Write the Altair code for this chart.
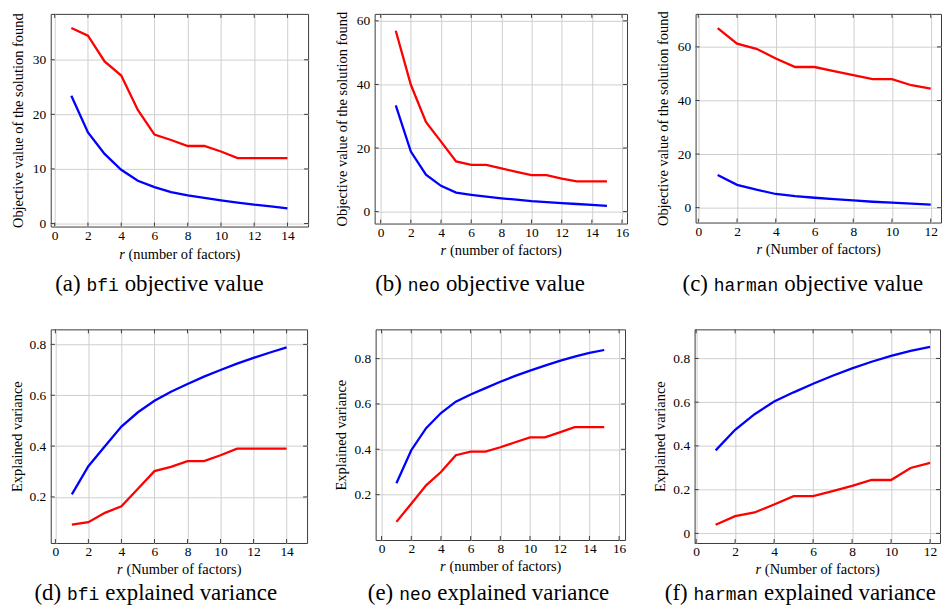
import altair as alt
import pandas as pd

# ---------------- data ----------------
r_bfi = list(range(1, 15))
r_neo = list(range(1, 16))
r_harman = list(range(1, 13))

bfi_obj_red = [35.8, 34.4, 29.7, 27.1, 20.8, 16.3, 15.3, 14.2, 14.2, 13.2, 12.0, 12.0, 12.0, 12.0]
bfi_obj_blue = [23.4, 16.7, 12.75, 9.84, 7.83, 6.68, 5.77, 5.16, 4.68, 4.25, 3.83, 3.46, 3.16, 2.79]

neo_obj_red = [56.9, 39.9, 28.2, 22.0, 15.8, 14.7, 14.7, 13.6, 12.5, 11.5, 11.5, 10.4, 9.5, 9.5, 9.5]
neo_obj_blue = [33.4, 18.9, 11.6, 8.1, 6.0, 5.3, 4.7, 4.2, 3.75, 3.3, 3.0, 2.7, 2.4, 2.1, 1.8]

harman_obj_red = [67.0, 61.2, 59.3, 55.7, 52.5, 52.5, 51.0, 49.5, 48.0, 48.0, 45.7, 44.4]
harman_obj_blue = [12.2, 8.5, 6.7, 5.1, 4.3, 3.7, 3.2, 2.7, 2.2, 1.85, 1.5, 1.1]

bfi_var_blue = [0.210, 0.321, 0.399, 0.477, 0.533, 0.578, 0.614, 0.644, 0.673, 0.699, 0.724, 0.747, 0.768, 0.788]
bfi_var_red = [0.091, 0.101, 0.1375, 0.1635, 0.2325, 0.3015, 0.318, 0.341, 0.341, 0.364, 0.39, 0.39, 0.39, 0.39]

neo_var_blue = [0.25, 0.396, 0.493, 0.56, 0.61, 0.642, 0.67, 0.698, 0.724, 0.747, 0.769, 0.79, 0.809, 0.825, 0.838]
neo_var_red = [0.08, 0.16, 0.241, 0.30, 0.374, 0.39, 0.39, 0.409, 0.431, 0.453, 0.453, 0.475, 0.498, 0.498, 0.498]

harman_var_blue = [0.3795, 0.4736, 0.545, 0.6027, 0.645, 0.6846, 0.721, 0.7545, 0.785, 0.812, 0.835, 0.853]
harman_var_red = [0.0395, 0.079, 0.0956, 0.132, 0.17, 0.17, 0.193, 0.217, 0.244, 0.244, 0.299, 0.322]

x_ticks_14 = [0, 2, 4, 6, 8, 10, 12, 14]
x_ticks_16 = [0, 2, 4, 6, 8, 10, 12, 14, 16]
x_ticks_12 = [0, 2, 4, 6, 8, 10, 12]
y_ticks_bfi = [0, 10, 20, 30]
y_ticks_60 = [0, 20, 40, 60]
y_ticks_var = [0.2, 0.4, 0.6, 0.8]
y_ticks_var0 = [0, 0.2, 0.4, 0.6, 0.8]

OBJ_TITLE = "Objective value of the solution found"
VAR_TITLE = "Explained variance"

SERIF = "Liberation Serif"
MONO = "Liberation Mono"
GRID = "#cfcfcf"
FRAME = "#3a3a3a"
ONE = pd.DataFrame({"k": [0]})


def panel(r, red, blue, W, H, xdom, ydom, xticks, yticks, ytitle, letter,
          name, rest, mono_left, xword, xt_base, cap_base, title_pad):
    n = len(r)
    df = pd.DataFrame({"r": r + r, "v": red + blue,
                       "s": ["red"] * n + ["blue"] * n})
    xs = alt.Scale(domain=xdom, nice=False, zero=False)
    ys = alt.Scale(domain=ydom, nice=False, zero=False)
    xax = alt.Axis(values=xticks, title=None, grid=True, gridColor=GRID, gridWidth=1,
                   ticks=False, domain=False, labelPadding=2, labelFlush=False,
                   labelOverlap=False, format="~f")
    yax = alt.Axis(values=yticks, title=ytitle, grid=True, gridColor=GRID, gridWidth=1,
                   ticks=False, domain=False, labelPadding=5, labelFlush=False,
                   labelOverlap=False, format=".1~f", titlePadding=title_pad)
    lines = alt.Chart(df).mark_line(strokeWidth=2.3).encode(
        x=alt.X("r:Q", scale=xs, axis=xax),
        y=alt.Y("v:Q", scale=ys, axis=yax),
        color=alt.Color("s:N", scale=alt.Scale(domain=["red", "blue"],
                                               range=["#ff0000", "#0000ff"]),
                        legend=None),
    )
    tx = pd.DataFrame({"r": xticks})
    ty = pd.DataFrame({"v": yticks})
    tk = dict(color=FRAME, strokeWidth=1)
    bot = alt.Chart(tx).mark_rule(**tk).encode(
        x=alt.X("r:Q", scale=xs, axis=xax), y=alt.value(H), y2=alt.value(H - 4))
    top = alt.Chart(tx).mark_rule(**tk).encode(
        x=alt.X("r:Q", scale=xs, axis=xax), y=alt.value(0), y2=alt.value(4))
    left = alt.Chart(ty).mark_rule(**tk).encode(
        y=alt.Y("v:Q", scale=ys, axis=yax), x=alt.value(0), x2=alt.value(4))
    right = alt.Chart(ty).mark_rule(**tk).encode(
        y=alt.Y("v:Q", scale=ys, axis=yax), x=alt.value(W - 4), x2=alt.value(W))

    # x-axis title: italic r + rest, centred on the plot
    xtxt = "(%s of factors)" % xword
    fs_t = 14.5
    extra = 3.2 if xword.startswith("N") else 0.0
    xa = W / 2 - 55 - extra / 2
    xt_r = alt.Chart(ONE).mark_text(text="r", font=SERIF, fontSize=fs_t, fontStyle="italic",
                                    align="right", baseline="alphabetic", color="black").encode(
        x=alt.value(xa), y=alt.value(xt_base))
    xt_rest = alt.Chart(ONE).mark_text(text=xtxt, font=SERIF, fontSize=fs_t,
                                       align="left", baseline="alphabetic", color="black").encode(
        x=alt.value(xa + 3.8), y=alt.value(xt_base))

    # caption: "(x) " serif + dataset name in typewriter + rest serif
    mono_w = 10.8 * len(name)
    c1 = alt.Chart(ONE).mark_text(text="(%s)" % letter, font=SERIF, fontSize=23,
                                  align="right", baseline="alphabetic", color="black").encode(
        x=alt.value(mono_left - 6), y=alt.value(cap_base))
    c2 = alt.Chart(ONE).mark_text(text=name, font=MONO, fontSize=18,
                                  align="left", baseline="alphabetic", color="black").encode(
        x=alt.value(mono_left), y=alt.value(cap_base))
    c3 = alt.Chart(ONE).mark_text(text=rest, font=SERIF, fontSize=23,
                                  align="left", baseline="alphabetic", color="black").encode(
        x=alt.value(mono_left + mono_w + 6), y=alt.value(cap_base))

    return alt.layer(lines, bot, top, left, right, xt_r, xt_rest, c1, c2, c3).properties(
        width=W, height=H)


pa = panel(r_bfi, bfi_obj_red, bfi_obj_blue, 259, 214, [-0.24, 15.24], [-0.546, 38.4],
           x_ticks_14, y_ticks_bfi, OBJ_TITLE, "a", "bfi", "objective value",
           36, "number", 246.3, 278.5, 7)
pb = panel(r_neo, neo_obj_red, neo_obj_blue, 254, 211, [-0.4, 16.33], [-3.75, 62.19],
           x_ticks_16, y_ticks_60, OBJ_TITLE, "b", "neo", "objective value",
           33.3, "number", 242.7, 278.5, 7)
pc = panel(r_harman, harman_obj_red, harman_obj_blue, 247, 210, [-0.14, 12.53], [-5.56, 72.33],
           x_ticks_12, y_ticks_60, OBJ_TITLE, "c", "harman", "objective value",
           18.4, "Number", 242, 278.5, 7)
pd_ = panel(r_bfi, bfi_var_red, bfi_var_blue, 258, 215, [-0.28, 15.24], [0.019, 0.859],
            x_ticks_14, y_ticks_var, VAR_TITLE, "d", "bfi", "explained variance",
            16.4, "Number", 246, 272.5, 5)
pe = panel(r_neo, neo_var_red, neo_var_blue, 251, 212, [-0.4, 16.4], [0.0, 0.929],
           x_ticks_16, y_ticks_var, VAR_TITLE, "e", "neo", "explained variance",
           23.7, "number", 242.7, 272.5, 5)
pf = panel(r_harman, harman_var_red, harman_var_blue, 247, 215, [-0.08, 12.51], [-0.044, 0.933],
           x_ticks_12, y_ticks_var0, VAR_TITLE, "f", "harman", "explained variance",
           -1, "Number", 246.7, 272.5, 5)

row1 = alt.hconcat(pa, pb, pc, spacing=25)
row2 = alt.hconcat(pd_, pe, pf, spacing=25)

chart = alt.vconcat(row1, row2, spacing=32.5).properties(
    padding=0, background="white"
).configure_view(
    stroke=FRAME, strokeWidth=1
).configure_axis(
    labelFont=SERIF, labelFontSize=13.5, labelColor="black",
    titleFont=SERIF, titleFontSize=14.5, titleFontWeight="normal", titleColor="black",
)

chart.save("out.html", embed_options={"renderer": "svg", "actions": False})
